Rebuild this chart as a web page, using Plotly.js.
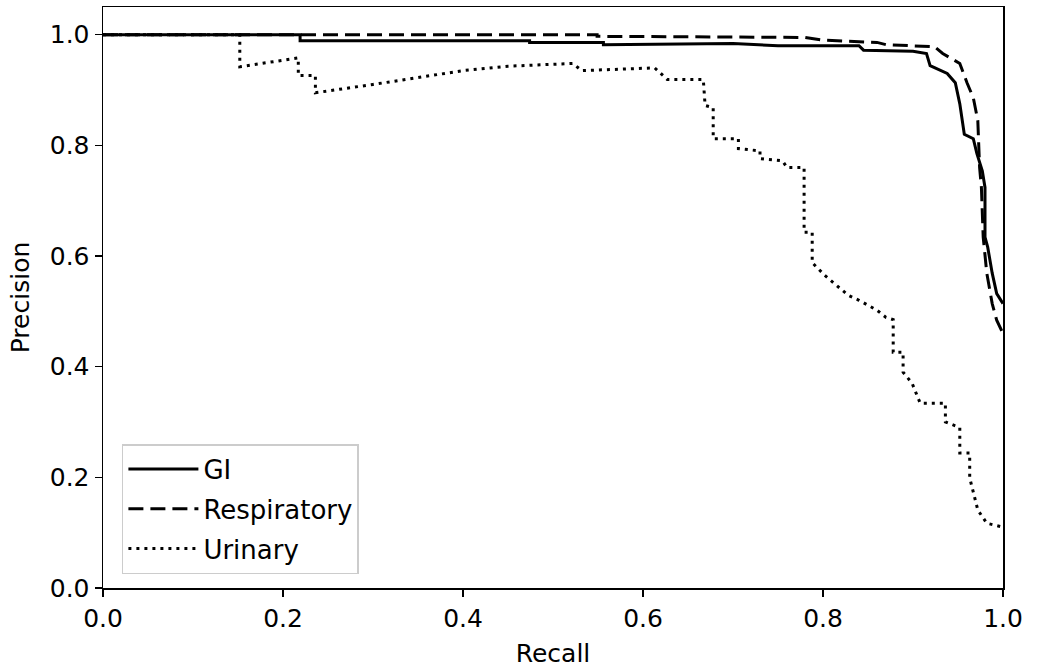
<!DOCTYPE html>
<html>
<head>
<meta charset="utf-8">
<script src="https://cdn.plot.ly/plotly-3.0.1.min.js"></script>
<style>body{margin:0;background:#fff;}#chart{width:1042px;height:668px;}</style>
</head>
<body>
<div id="chart"></div>
<script>
const giRecall = [0, 0.219, 0.219, 0.474, 0.474, 0.556, 0.556, 0.70, 0.75, 0.84, 0.845, 0.90, 0.915, 0.919, 0.938, 0.947, 0.952, 0.957, 0.967, 0.971, 0.977, 0.98, 0.98, 0.983, 0.988, 0.993, 1.0];
const giPrecision = [1, 1, 0.989, 0.989, 0.986, 0.986, 0.982, 0.984, 0.98, 0.98, 0.972, 0.970, 0.966, 0.944, 0.93, 0.913, 0.875, 0.82, 0.812, 0.785, 0.754, 0.724, 0.634, 0.616, 0.569, 0.532, 0.514];

const respRecall = [0, 0.549, 0.549, 0.78, 0.80, 0.86, 0.87, 0.924, 0.933, 0.952, 0.96, 0.967, 0.972, 0.974, 0.976, 0.978, 0.982, 0.988, 0.993, 1.0];
const respPrecision = [1, 1, 0.997, 0.995, 0.99, 0.986, 0.982, 0.978, 0.966, 0.948, 0.913, 0.886, 0.845, 0.76, 0.724, 0.634, 0.569, 0.514, 0.484, 0.46];

const uriRecall = [0, 0.152, 0.152, 0.217, 0.217, 0.236, 0.236, 0.30, 0.40, 0.45, 0.522, 0.532, 0.613, 0.627, 0.667, 0.669, 0.678, 0.678, 0.706, 0.706, 0.73, 0.73, 0.755, 0.76, 0.779, 0.779, 0.788, 0.788, 0.802, 0.815, 0.828, 0.84, 0.86, 0.87, 0.878, 0.878, 0.889, 0.889, 0.899, 0.908, 0.936, 0.936, 0.952, 0.952, 0.963, 0.963, 0.972, 0.982, 1.0];
const uriPrecision = [1, 1, 0.942, 0.958, 0.926, 0.926, 0.895, 0.91, 0.935, 0.943, 0.948, 0.935, 0.94, 0.919, 0.919, 0.872, 0.868, 0.812, 0.812, 0.794, 0.79, 0.776, 0.772, 0.76, 0.76, 0.643, 0.643, 0.588, 0.565, 0.547, 0.529, 0.52, 0.502, 0.489, 0.485, 0.426, 0.426, 0.39, 0.37, 0.334, 0.334, 0.30, 0.29, 0.244, 0.244, 0.199, 0.141, 0.117, 0.11];

const seriesNames = ['GI', 'Respiratory', 'Urinary'];
const tickVals = [0, 0.2, 0.4, 0.6, 0.8, 1.0];
const tickText = ['0.0', '0.2', '0.4', '0.6', '0.8', '1.0'];

const font = {family: 'DejaVu Sans, sans-serif', size: 25, color: '#000'};
const legendFont = {family: 'DejaVu Sans, sans-serif', size: 26, color: '#000'};

const traces = [
  {x: giRecall, y: giPrecision, name: seriesNames[0], legendgroup: 'a', mode: 'lines', line: {color: '#000', width: 3}},
  {x: respRecall, y: respPrecision, name: seriesNames[1], legendgroup: 'b', mode: 'lines', line: {color: '#000', width: 3, dash: '15px,7px'}},
  {x: uriRecall, y: uriPrecision, name: seriesNames[2], legendgroup: 'c', mode: 'lines', line: {color: '#000', width: 3, dash: '3px,5px'}}
];

const axisCommon = {
  showgrid: false, zeroline: false, showline: true, mirror: true,
  linecolor: '#000', linewidth: 1.5,
  ticks: 'outside', ticklen: 7, tickwidth: 1.5, tickcolor: '#000',
  tickvals: tickVals, ticktext: tickText, tickfont: font
};

const layout = {
  width: 1042, height: 668,
  margin: {l: 103, r: 39, t: 7, b: 80},
  paper_bgcolor: '#fff', plot_bgcolor: '#fff',
  font: font,
  xaxis: Object.assign({}, axisCommon, {range: [0, 1], title: {text: 'Recall', font: font, standoff: 14}}),
  yaxis: Object.assign({}, axisCommon, {range: [0, 1.05], title: {text: 'Precision', font: font, standoff: 13}}),
  showlegend: true,
  legend: {
    x: 0.021, y: 0.024, xanchor: 'left', yanchor: 'bottom',
    bgcolor: 'rgba(255,255,255,0.85)', bordercolor: '#ccc', borderwidth: 1.5,
    font: legendFont, tracegroupgap: 3, itemwidth: 70
  }
};

Plotly.newPlot('chart', traces, layout, {displayModeBar: false, staticPlot: true});
</script>
</body>
</html>
